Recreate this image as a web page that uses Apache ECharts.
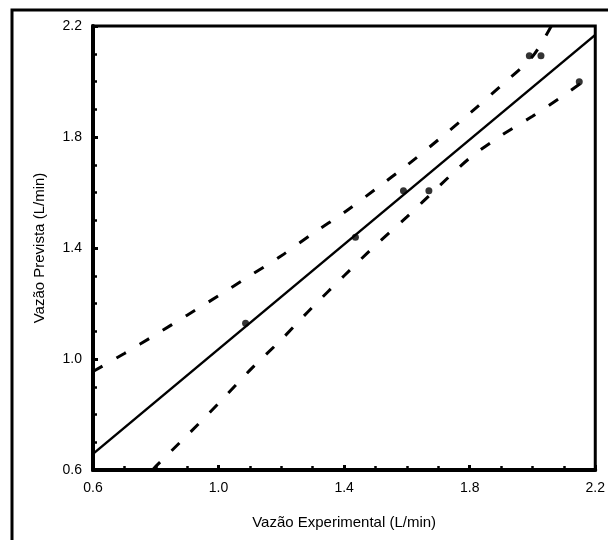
<!DOCTYPE html>
<html><head><meta charset="utf-8">
<script src="https://cdn.jsdelivr.net/npm/echarts@6/dist/echarts.min.js"></script>
<style>html,body{margin:0;padding:0;background:#fff}#c{width:608px;height:540px}</style>
</head><body><div id="c"></div>
<script>
// Observed points (Vazão Experimental, Vazão Prevista)
const pointsX = [1.086, 1.436, 1.589, 1.670, 1.990, 2.027, 2.149];
const pointsY = [1.129, 1.439, 1.606, 1.606, 2.093, 2.093, 1.999];
// Fitted regression line
const fitX = [0.6, 2.2];
const fitY = [0.658, 2.168];
// Upper confidence band
const upperX = [0.6, 0.7, 0.8, 0.9, 1.0, 1.1, 1.2, 1.3, 1.4, 1.5, 1.6, 1.7, 1.8, 1.9, 2.0, 2.06];
const upperY = [0.955, 1.02, 1.088, 1.158, 1.228, 1.30, 1.372, 1.452, 1.528, 1.612, 1.698, 1.79, 1.885, 1.985, 2.09, 2.2];
// Lower confidence band
const lowerX = [0.79, 0.8, 0.9, 1.0, 1.1, 1.2, 1.3, 1.4, 1.5, 1.6, 1.7, 1.8, 1.9, 2.0, 2.1, 2.155];
const lowerY = [0.6, 0.613, 0.725, 0.84, 0.96, 1.07, 1.188, 1.30, 1.41, 1.512, 1.62, 1.724, 1.805, 1.875, 1.95, 1.995];
const tickVals = [0.6, 1.0, 1.4, 1.8, 2.2];

const zip = (a, b) => a.map((v, i) => [v, b[i]]);
const font = 'Liberation Sans, Arial, sans-serif';
const axisCommon = {
  min: 0.6, max: 2.2, interval: 0.4,
  axisLine: {show: true, lineStyle: {color: '#000', width: 4}},
  axisTick: {show: true, inside: true, length: 5, lineStyle: {color: '#000', width: 3}},
  minorTick: {show: true, splitNumber: 4, length: 4, lineStyle: {color: '#000', width: 2.5}},
  splitLine: {show: false},
  axisLabel: {color: '#000', fontSize: 14, fontFamily: font, formatter: v => v.toFixed(1)},
  nameLocation: 'middle',
  nameTextStyle: {color: '#000', fontSize: 15, fontFamily: font}
};
const chart = echarts.init(document.getElementById('c'), null, {renderer: 'canvas'});
chart.setOption({
  animation: false,
  backgroundColor: '#fff',
  graphic: [{type: 'rect', shape: {x: 12, y: 10, width: 640, height: 600}, style: {fill: 'none', stroke: '#000', lineWidth: 3}, z: 100}],
  grid: {left: 93, top: 26, right: 12, bottom: 70, show: true, borderColor: '#000', borderWidth: 3, backgroundColor: 'transparent'},
  xAxis: Object.assign({}, axisCommon, {type: 'value', name: 'Vazão Experimental (L/min)', nameGap: 45,
    axisLabel: Object.assign({}, axisCommon.axisLabel, {margin: 11})}),
  yAxis: Object.assign({}, axisCommon, {type: 'value', name: 'Vazão Prevista (L/min)', nameGap: 46,
    axisLabel: Object.assign({}, axisCommon.axisLabel, {margin: 11})}),
  series: [
    {type: 'line', data: zip(fitX, fitY), symbol: 'none', lineStyle: {color: '#000', width: 2.5}, z: 3},
    {type: 'line', data: zip(upperX, upperY), symbol: 'none', smooth: 0.3, lineStyle: {color: '#000', width: 3, type: [11, 16]}, z: 3},
    {type: 'line', data: zip(lowerX, lowerY), symbol: 'none', smooth: 0.3, lineStyle: {color: '#000', width: 3, type: [11, 16]}, z: 3},
    {type: 'scatter', data: zip(pointsX, pointsY), symbol: 'circle', symbolSize: 7, itemStyle: {color: '#000'}, z: 4}
  ]
});
</script></body></html>
